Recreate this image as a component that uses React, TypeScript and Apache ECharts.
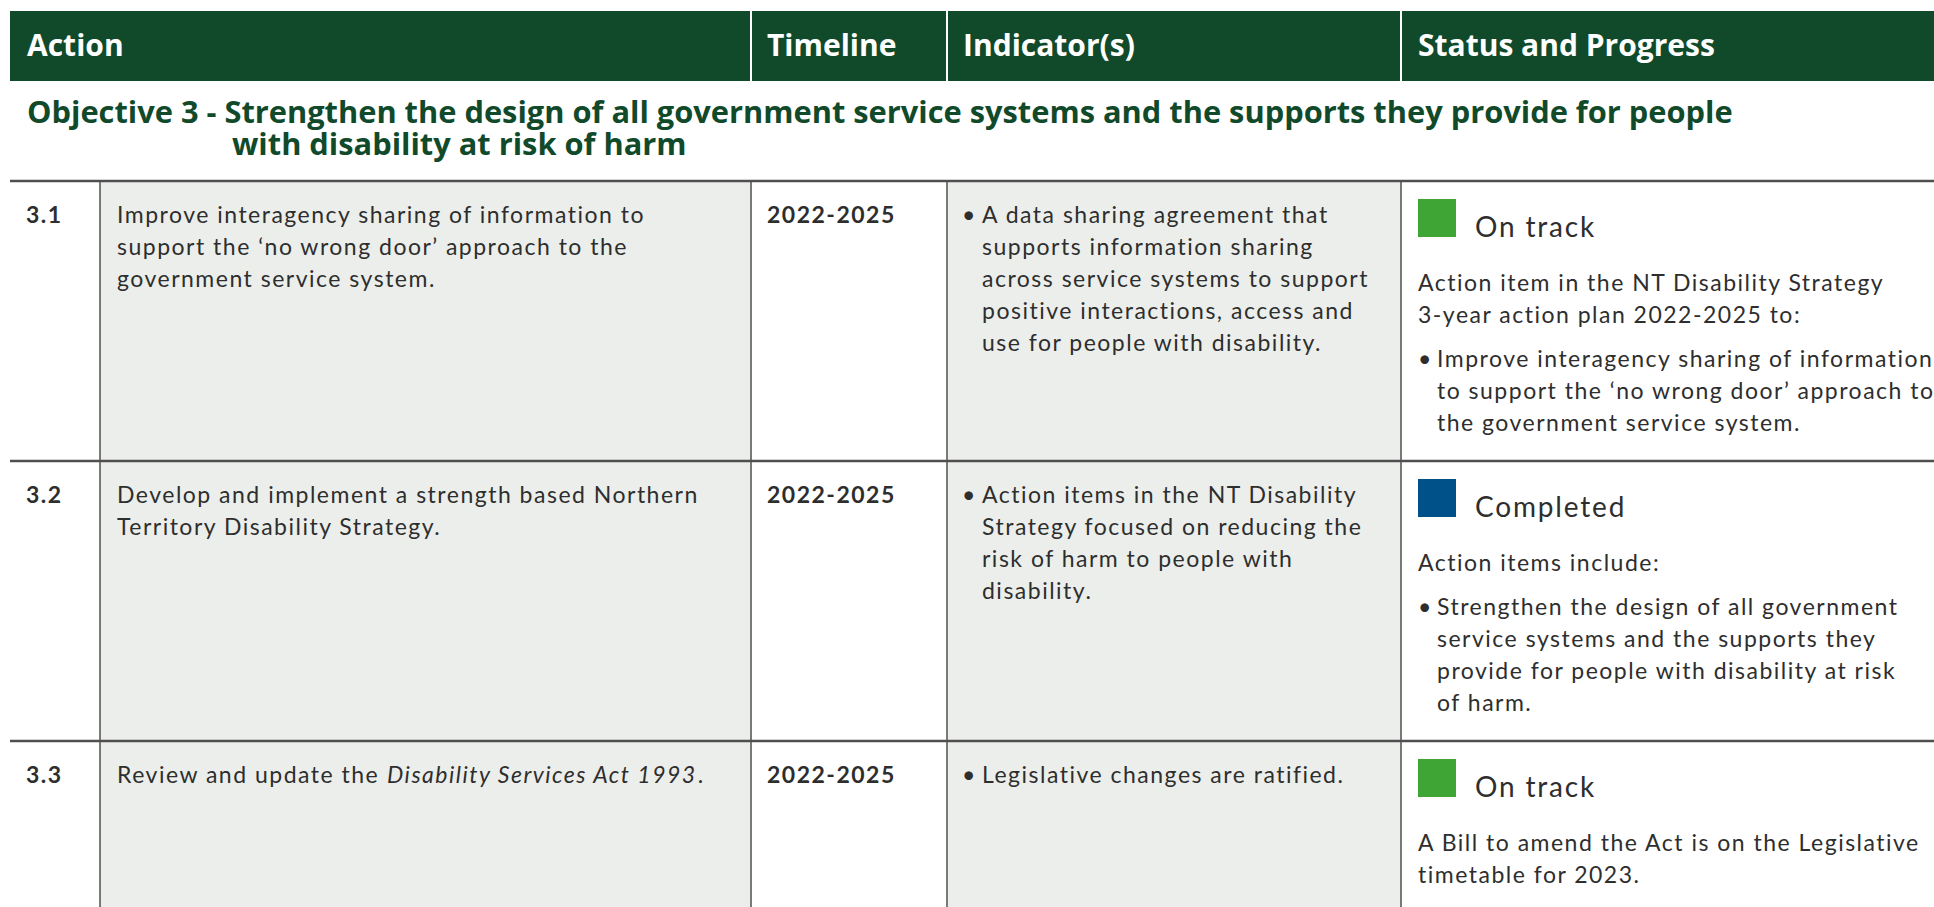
import React, { useEffect, useRef } from "react";
import * as echarts from "echarts";

// ---- data ----
const headers = ["Action", "Timeline", "Indicator(s)", "Status and Progress"];
const objectiveLines = [
  "Objective 3 - Strengthen the design of all government service systems and the supports they provide for people",
  "with disability at risk of harm",
];
const actionIds = ["3.1", "3.2", "3.3"];
// text between * * is italic
const actionLines = [
  ["Improve interagency sharing of information to", "support the \u2018no wrong door\u2019 approach to the", "government service system."],
  ["Develop and implement a strength based Northern", "Territory Disability Strategy."],
  ["Review and update the *Disability Services Act 1993*."],
];
const timelines = ["2022-2025", "2022-2025", "2022-2025"];
const indicatorLines = [
  ["A data sharing agreement that", "supports information sharing", "across service systems to support", "positive interactions, access and", "use for people with disability."],
  ["Action items in the NT Disability", "Strategy focused on reducing the", "risk of harm to people with", "disability."],
  ["Legislative changes are ratified."],
];
const statusLabels = ["On track", "Completed", "On track"];
const statusIntro = [
  ["Action item in the NT Disability Strategy", "3-year action plan 2022-2025 to:"],
  ["Action items include:"],
  ["A Bill to amend the Act is on the Legislative", "timetable for 2023."],
];
const statusBullets = [
  ["Improve interagency sharing of information", "to support the \u2018no wrong door\u2019 approach to", "the government service system."],
  ["Strengthen the design of all government", "service systems and the supports they", "provide for people with disability at risk", "of harm."],
  [],
];

// ---- styles ----
const GREEN_DARK = "#114a2b";
const GREY_BG = "#eceeeb";
const LINE = "#4f4f4f";
const TEXT = "#2e2e2e";
const STATUS_COLORS: Record<string, string> = { "On track": "#3fa535", Completed: "#00508a" };
const HEAD_FONT = "'Open Sans', 'Noto Sans', sans-serif";
const BODY_FONT = "Lato, 'Open Sans', sans-serif";
const TRACK = 0.065; // em, letter spacing of body font (applied by CSS)

const X0 = 10;
const X_NUM = 100;
const X_ACT = 751;
const X_IND = 947;
const X_STAT = 1401;
const X_END = 1934;
const ROW_TOPS = [181, 461, 741];
const BOTTOM = 907;

let measureCtx: CanvasRenderingContext2D | null = null;
function measure(text: string, fs: number, italic: boolean) {
  if (!measureCtx) measureCtx = document.createElement("canvas").getContext("2d");
  if (!measureCtx) return text.length * fs * 0.5;
  measureCtx.font = `${italic ? "italic " : ""}normal ${fs}px Lato`;
  return measureCtx.measureText(text).width + TRACK * fs * text.length;
}

function txt(x: number, baseline: number, text: string, fs: number, opts: any = {}) {
  return {
    type: "text",
    x,
    y: baseline - 0.387 * fs,
    silent: true,
    style: {
      text,
      fontSize: fs,
      fontFamily: opts.family || BODY_FONT,
      fontWeight: opts.weight || "normal",
      fontStyle: opts.italic ? "italic" : "normal",
      fill: opts.fill || TEXT,
      align: "left",
      verticalAlign: "middle",
      lineHeight: opts.lineHeight || Math.round(fs * 1.2),
    },
  };
}

function segLine(g: any[], x: number, baseline: number, line: string, fs: number) {
  const parts = line.split("*");
  let cx = x;
  parts.forEach((p, i) => {
    if (!p) return;
    const italic = i % 2 === 1;
    g.push(txt(cx, baseline, p, fs, { italic }));
    cx += measure(p, fs, italic);
  });
}

function buildGraphics() {
  const g: any[] = [];
  // header bar
  g.push({ type: "rect", shape: { x: X0, y: 11, width: X_END - X0, height: 70 }, style: { fill: GREEN_DARK }, silent: true });
  [X_ACT, X_IND, X_STAT].forEach((x) =>
    g.push({ type: "line", shape: { x1: x, y1: 11, x2: x, y2: 81 }, style: { stroke: "#ffffff", lineWidth: 2 }, silent: true })
  );
  const headX = [27, 767, 963, 1418];
  headers.forEach((h, i) => g.push(txt(headX[i], 56, h, 30, { family: HEAD_FONT, weight: "bold", fill: "#ffffff" })));

  // objective
  g.push(txt(27, 123, objectiveLines[0], 30.8, { family: HEAD_FONT, weight: "bold", fill: GREEN_DARK, lineHeight: 30 }));
  g.push(txt(232, 155, objectiveLines[1], 30.8, { family: HEAD_FONT, weight: "bold", fill: GREEN_DARK, lineHeight: 30 }));

  // grey column backgrounds
  g.push({ type: "rect", shape: { x: X_NUM, y: ROW_TOPS[0], width: X_ACT - X_NUM, height: BOTTOM - ROW_TOPS[0] }, style: { fill: GREY_BG }, silent: true });
  g.push({ type: "rect", shape: { x: X_IND, y: ROW_TOPS[0], width: X_STAT - X_IND, height: BOTTOM - ROW_TOPS[0] }, style: { fill: GREY_BG }, silent: true });

  // vertical lines
  [X_NUM, X_ACT, X_IND, X_STAT].forEach((x) =>
    g.push({ type: "line", shape: { x1: x, y1: ROW_TOPS[0], x2: x, y2: BOTTOM }, style: { stroke: LINE, lineWidth: 1.5 }, silent: true })
  );
  // row lines
  ROW_TOPS.forEach((y) =>
    g.push({ type: "line", shape: { x1: X0, y1: y, x2: X_END, y2: y }, style: { stroke: LINE, lineWidth: 2.5 }, silent: true })
  );

  const FS = 23;
  const LH = 32;
  ROW_TOPS.forEach((top, r) => {
    const b0 = top + 42;
    g.push(txt(26, b0, actionIds[r], FS, { weight: "bold" }));
    actionLines[r].forEach((l, k) => segLine(g, 117, b0 + k * LH, l, FS));
    g.push(txt(767, b0, timelines[r], FS, { weight: "bold" }));
    indicatorLines[r].forEach((l, k) => {
      if (k === 0) g.push(txt(962, b0, "\u2022", FS));
      g.push(txt(982, b0 + k * LH, l, FS));
    });
    // status
    g.push({ type: "rect", shape: { x: 1418, y: top + 18, width: 38, height: 38 }, style: { fill: STATUS_COLORS[statusLabels[r]] }, silent: true });
    g.push(txt(1475, top + 55.5, statusLabels[r], 28));
    const ib = top + 110;
    statusIntro[r].forEach((l, k) => g.push(txt(1418, ib + k * LH, l, FS)));
    const bb = ib + (statusIntro[r].length - 1) * LH + 44;
    statusBullets[r].forEach((l, k) => {
      if (k === 0) g.push(txt(1418, bb, "\u2022", FS));
      g.push(txt(1437, bb + k * LH, l, FS));
    });
  });
  return g;
}

const css = `#root text[style*="Lato"], #root text[font-family*="Lato"] { letter-spacing: ${TRACK}em; }`;

export default function App() {
  const ref = useRef<HTMLDivElement>(null);
  useEffect(() => {
    if (!ref.current) return;
    const chart = echarts.init(ref.current, null, { renderer: "svg" });
    chart.setOption({
      animation: false,
      backgroundColor: "#ffffff",
      graphic: { elements: buildGraphics() },
    });
    return () => chart.dispose();
  }, []);
  return (
    <>
      <style>{css}</style>
      <div ref={ref} style={{ position: "fixed", left: 0, top: 0, width: 1934, height: 907 }} />
    </>
  );
}
